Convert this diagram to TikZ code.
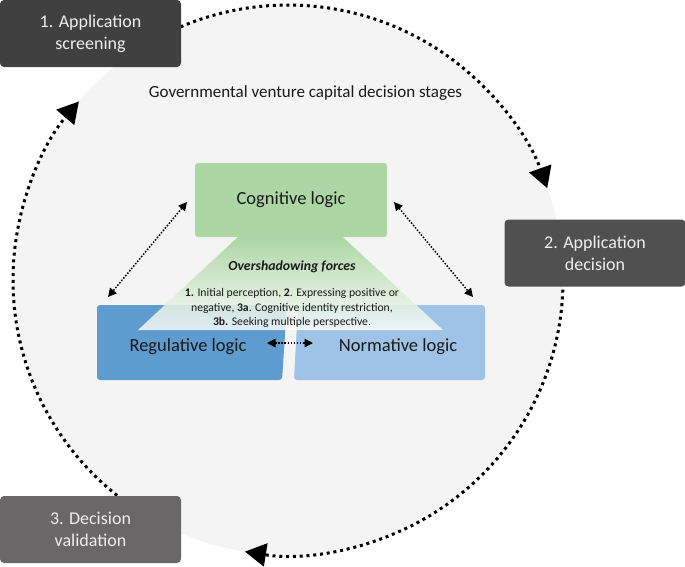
\documentclass[tikz,border=0pt]{standalone}
\usepackage{fontspec}
\setmainfont{Carlito}
\usetikzlibrary{arrows.meta,fadings}
\definecolor{circbg}{HTML}{F4F4F4}
\definecolor{stA}{HTML}{404040}
\definecolor{stB}{HTML}{505050}
\definecolor{stC}{HTML}{696767}
\definecolor{stagetext}{HTML}{EEEEEE}
\definecolor{coggreen}{HTML}{ADD6A5}
\definecolor{regblue}{HTML}{5E9BCE}
\definecolor{normblue}{HTML}{9EC3E6}
\definecolor{maintext}{HTML}{1A1A1A}
\tikzfading[name=fadedown, top color=transparent!0, bottom color=transparent!100]
\begin{document}
\begin{tikzpicture}[x=1pt,y=-1pt,
  stage/.style={rounded corners=4pt, minimum width=181pt, minimum height=67pt, inner sep=0pt,
    align=center, text=stagetext, font=\fontsize{18}{22}\selectfont},
  logic/.style={inner sep=0pt, text=maintext, font=\fontsize{18.5}{22}\selectfont},
  bigdots/.style={line width=3pt, line cap=butt, dash pattern=on 3pt off 3.8pt,
    -{Triangle[length=21pt,width=23pt]}},
  smalldots/.style={line width=1.5pt, line cap=butt, dash pattern=on 1.5pt off 1.6pt,
    {Triangle[length=8.5pt,width=8.5pt]}-{Triangle[length=8.5pt,width=8.5pt]}}]
\useasboundingbox (0,0) rectangle (685,566);
% background circle
\fill[circbg] (288,280) circle[radius=275];
% cycle arcs
\coordinate (C) at (288,280);
\draw[bigdots] (C) ++(-113:275) arc[start angle=-113, end angle=-19.5, radius=275];
\draw[bigdots] (C) ++(2:275) arc[start angle=2, end angle=99, radius=275];
\draw[bigdots] (C) ++(127:275) arc[start angle=127, end angle=220.5, radius=275];
% stage boxes
\node[stage, fill=stA] (s1) at (90.5,33.5) {1. Application\\screening};
\node[stage, fill=stB] (s2) at (595,253) {2. Application\\decision};
\node[stage, fill=stC] (s3) at (90.5,529.5) {3. Decision\\validation};
% title
\node[text=maintext, font=\fontsize{17}{20}\selectfont] (title) at (305.5,93) {Governmental venture capital decision stages};
% logic boxes
\fill[regblue, rounded corners=3pt] (97,305) -- (287,305) -- (282,380) -- (97,380) -- cycle;
\fill[normblue, rounded corners=3pt] (298,305) -- (485,305) -- (485,380) -- (294,380) -- cycle;
\node[fill=coggreen, rounded corners=3pt, minimum width=192pt, minimum height=74pt, inner sep=0pt,
  text=maintext, font=\fontsize{18.5}{22}\selectfont] (cog) at (291,200) {Cognitive logic};
% overshadowing trapezoid
\fill[white, fill opacity=0.82]
  (238,237) -- (343,237) -- (443,330) -- (138,330) -- cycle;
\fill[coggreen, path fading=fadedown]
  (238,237) -- (343,237) -- (443,330) -- (138,330) -- cycle;
\node[logic] (reg) at (188,347) {Regulative logic};
\node[logic] (norm) at (398,347) {Normative logic};
\node[text=maintext, font=\fontsize{13.8}{16}\selectfont\bfseries\itshape] (osf) at (292,267) {Overshadowing forces};
\node[text=maintext, align=center, inner sep=0pt, font=\fontsize{11.7}{14.4}\selectfont] (forces) at (292,308)
  {\textbf{1.} Initial perception, \textbf{2}. Expressing positive or\\
   negative, \textbf{3a}. Cognitive identity restriction,\\
   \textbf{3b.} Seeking multiple perspective.};
% relation arrows
\coordinate (cogL) at (187,202);
\coordinate (cogR) at (394,202);
\coordinate (regT) at (108,297);
\coordinate (normT) at (473,297);
\coordinate (regR) at (267,343);
\coordinate (normL) at (313,343);
\draw[smalldots] (cogL) -- (regT);
\draw[smalldots] (cogR) -- (normT);
\draw[smalldots] (regR) -- (normL);
\end{tikzpicture}
\end{document}
